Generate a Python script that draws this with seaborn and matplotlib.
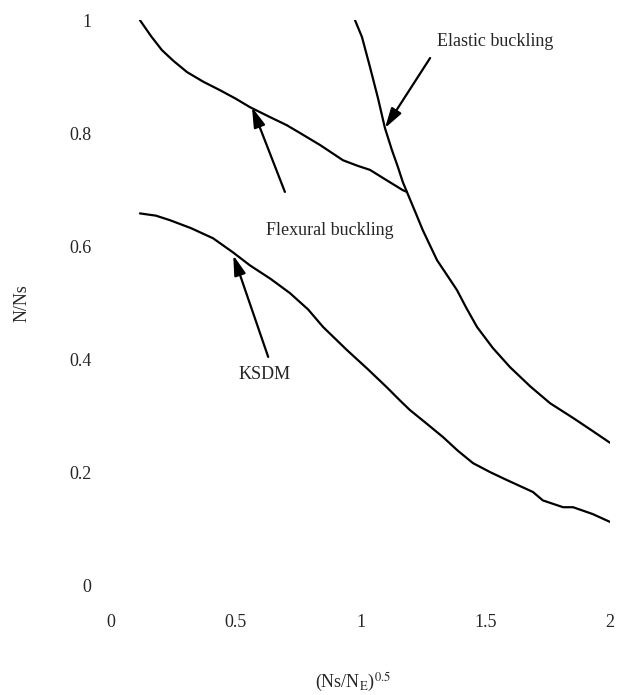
import matplotlib
matplotlib.use("Agg")
import matplotlib.pyplot as plt
import seaborn as sns

# curve data
flex_x = [0.116, 0.160, 0.204, 0.250, 0.305, 0.370, 0.437, 0.500, 0.557, 0.630,
          0.705, 0.770, 0.838, 0.930, 0.990, 1.038, 1.100, 1.170, 1.186]
flex_y = [1.000, 0.972, 0.947, 0.928, 0.908, 0.891, 0.876, 0.861, 0.846, 0.830,
          0.814, 0.797, 0.779, 0.752, 0.742, 0.735, 0.718, 0.699, 0.696]

elastic_x = [0.978, 1.006, 1.038, 1.070, 1.098, 1.126, 1.150, 1.170, 1.186, 1.220,
             1.250, 1.280, 1.307, 1.345, 1.387, 1.425, 1.467, 1.530, 1.599, 1.680,
             1.760, 1.852, 1.930, 2.000]
elastic_y = [1.000, 0.970, 0.917, 0.862, 0.809, 0.770, 0.740, 0.713, 0.696, 0.660,
             0.628, 0.600, 0.575, 0.550, 0.522, 0.490, 0.457, 0.420, 0.386, 0.352,
             0.322, 0.296, 0.273, 0.252]

ksdm_x = [0.116, 0.180, 0.236, 0.320, 0.409, 0.489, 0.557, 0.640, 0.717, 0.790,
          0.850, 0.946, 1.030, 1.106, 1.158, 1.198, 1.265, 1.331, 1.390, 1.451,
          1.520, 1.587, 1.691, 1.731, 1.812, 1.852, 1.930, 2.000]
ksdm_y = [0.658, 0.654, 0.646, 0.632, 0.614, 0.589, 0.566, 0.542, 0.517, 0.488,
          0.457, 0.416, 0.382, 0.350, 0.327, 0.310, 0.286, 0.262, 0.238, 0.216,
          0.200, 0.186, 0.165, 0.150, 0.138, 0.138, 0.126, 0.112]

x_ticks = [0, 0.5, 1, 1.5, 2]
x_labels = ["0", "0.5", "1", "1.5", "2"]
y_ticks = [0, 0.2, 0.4, 0.6, 0.8, 1]
y_labels = ["0", "0.2", "0.4", "0.6", "0.8", "1"]

sns.set_style("white")
plt.rcParams['font.family'] = ['Liberation Serif', 'DejaVu Serif']
plt.rcParams['mathtext.fontset'] = 'stix'

fig = plt.figure(figsize=(6.25, 6.95), dpi=100)
ax = fig.add_axes([0.1776, 0.158, 0.7984, 0.813])

for xs, ys in [(flex_x, flex_y), (elastic_x, elastic_y), (ksdm_x, ksdm_y)]:
    sns.lineplot(x=xs, y=ys, ax=ax, color="black", lw=1.6, sort=False, estimator=None)

ax.set_xlim(0, 2)
ax.set_ylim(0, 1)
ax.set_xticks(x_ticks)
ax.set_xticklabels(x_labels)
ax.set_yticks(y_ticks)
ax.set_yticklabels(y_labels)
ax.tick_params(axis="both", length=0, labelsize=13)
ax.tick_params(axis="x", pad=21)
ax.tick_params(axis="y", pad=14)
sns.despine(ax=ax, left=True, bottom=True, top=True, right=True)

ax.set_xlabel(r"(Ns/N$_{\rm E}$)$^{0.5}$", fontsize=13, va="center")
ax.xaxis.set_label_coords(0.485, -0.173)
ax.set_ylabel("N/Ns", fontsize=13, va="center")
ax.yaxis.set_label_coords(-0.178, 0.499)

arrow = dict(arrowstyle="-|>,head_length=1.2,head_width=0.35", color="black", lw=1.6,
             shrinkA=0, shrinkB=0)
ax.annotate("", xy=(1.098, 0.809), xytext=(1.279, 0.933), arrowprops=arrow)
ax.text(1.305, 0.963, "Elastic buckling", fontsize=13, va="center", ha="left")

ax.annotate("", xy=(0.565, 0.846), xytext=(0.697, 0.696), arrowprops=arrow)
ax.text(0.878, 0.628, "Flexural buckling", fontsize=13, va="center", ha="center")

ax.annotate("", xy=(0.49, 0.584), xytext=(0.63, 0.404), arrowprops=arrow)
ax.text(0.617, 0.372, "KSDM", fontsize=13, va="center", ha="center")

fig.savefig("out.png", dpi=100)
